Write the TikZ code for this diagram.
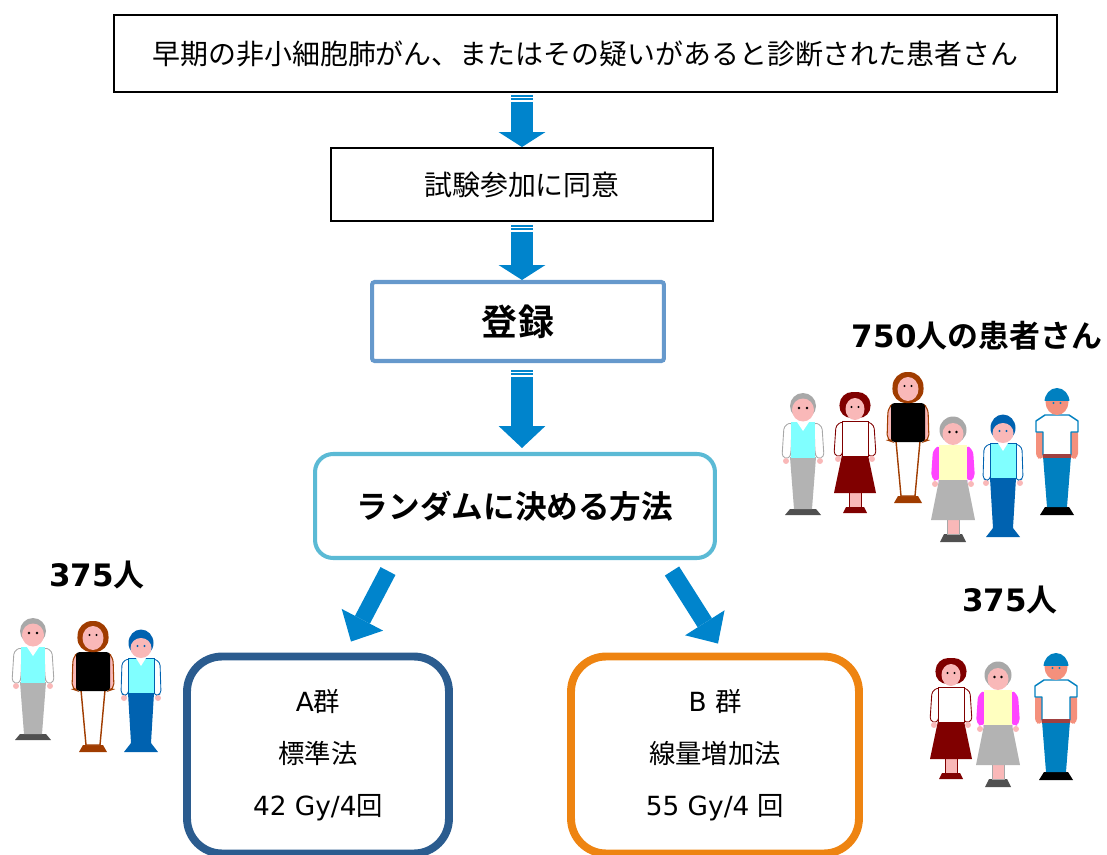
\documentclass[tikz,border=0pt]{standalone}
\usepackage{fontspec}
\setmainfont{DejaVu Sans}
\newfontfamily\jpfont{Noto Sans CJK JP}[BoldFont={Noto Sans CJK JP Bold}]
\usetikzlibrary{arrows.meta,calc,positioning}

\definecolor{arrowblue}{HTML}{0084CC}
\definecolor{regblue}{HTML}{6699CC}
\definecolor{randcyan}{HTML}{5BBAD5}
\definecolor{groupA}{HTML}{2B5C8F}
\definecolor{groupB}{HTML}{EE8411}
\definecolor{skin}{HTML}{F9B8B8}
\definecolor{salmonskin}{HTML}{F4907C}
\definecolor{vestcyan}{HTML}{80FFFF}
\definecolor{trouser}{HTML}{B3B3B3}
\definecolor{shoegrey}{HTML}{505050}
\definecolor{hairgrey}{HTML}{A8A8A8}
\definecolor{wine}{HTML}{800000}
\definecolor{rust}{HTML}{A03C00}
\definecolor{denim}{HTML}{0062B0}
\definecolor{jeans}{HTML}{0080C0}
\definecolor{lemon}{HTML}{FFFFC0}
\definecolor{fuchsia}{HTML}{FF44FF}
\definecolor{belt}{HTML}{A04040}

\tikzset{
  plainbox/.style={draw=black,line width=1.1pt,
    font=\jpfont\fontsize{15.9pt}{19pt}\selectfont},
  regbox/.style={draw=regblue,line width=2.3pt,rounded corners=1.5pt,
    font=\jpfont\bfseries\fontsize{20.5pt}{24pt}\selectfont},
  randbox/.style={draw=randcyan,line width=2.3pt,rounded corners=0.36cm,
    font=\jpfont\bfseries\fontsize{18pt}{22pt}\selectfont},
  armbox/.style={line width=4.5pt,rounded corners=0.7cm,align=center,
    minimum width=#1,minimum height=3.94cm,
    font=\fontsize{15pt}{29.5pt}\selectfont},
  countlabel/.style={inner sep=0pt,font=\bfseries\fontsize{17.6pt}{20pt}\selectfont},
  flowarrow/.style={arrowblue,line width=13pt,
    -{Triangle[width=26.6pt,length=#1,line width=0pt]}},
  flowarrow/.default=8.5pt,
  stripe/.style={white,line width=1pt},
  splitarrow/.style={arrowblue,line width=9.6pt,
    -{Triangle[width=26.6pt,length=14pt,line width=0pt]}},
  % little people, feet at the origin
  greyman/.pic={
    \fill[shoegrey] (-18,0) -- (18,0) -- (13,-6) -- (-13,-6) -- cycle;
    \fill[trouser] (-13,-58) -- (13,-58) -- (9,-6) -- (-9,-6) -- cycle;
    \foreach \s in {-1,1}{
      \filldraw[fill=white,draw=hairgrey,line width=0.5pt,rounded corners=2pt]
        (\s*11,-93) -- (\s*19,-89) -- (\s*21,-58) -- (\s*14,-56) -- (\s*12,-62) -- cycle;
      \fill[skin] (\s*17,-54) circle (3);
    }
    \fill[vestcyan] (-12,-93) rectangle (12,-57);
    \fill[white] (-6,-93) -- (0,-84) -- (6,-93) -- cycle;
    \fill[hairgrey] (0,-109) circle (13);
    \fill[skin] (0,-105) ellipse (11 and 11.5);
    \fill[black] (-4,-107) circle (1.4) (4,-107) circle (1.4);
  },
  redlady/.pic={
    \fill[wine] (-12,0) -- (12,0) -- (9,-6) -- (-9,-6) -- cycle;
    \filldraw[fill=skin,draw=wine,line width=0.5pt] (-6,-21) rectangle (6,-6);
    \fill[wine] (-21,-20) -- (21,-20) -- (13,-58) -- (-13,-58) -- cycle;
    \foreach \s in {-1,1}{
      \filldraw[fill=white,draw=wine,line width=0.5pt,rounded corners=2pt]
        (\s*11,-92) -- (\s*19,-88) -- (\s*21,-58) -- (\s*14,-56) -- (\s*12,-62) -- cycle;
      \fill[skin] (\s*17,-54) circle (3);
    }
    \filldraw[fill=white,draw=wine,line width=0.5pt] (-13,-92) rectangle (13,-57);
    \fill[wine,rounded corners=7pt] (-15,-121) -- (15,-121) -- (16,-95) -- (-16,-95) -- cycle;
    \fill[skin] (0,-104) ellipse (9.5 and 11);
    \fill[black] (-3.5,-106) circle (1.2) (3.5,-106) circle (1.2);
  },
  blacklady/.pic={
    \fill[rust] (-14,0) -- (14,0) -- (10,-7) -- (-10,-7) -- cycle;
    \filldraw[fill=white,draw=rust,line width=0.8pt] (-12,-62) -- (12,-62) -- (7,-7) -- (-7,-7) -- cycle;
    \foreach \s in {-1,1}
      \filldraw[fill=skin,draw=rust,line width=0.6pt,rounded corners=3pt]
        (\s*14,-100) -- (\s*20,-95) -- (\s*21,-63) -- (\s*15,-61) -- cycle;
    \fill[black,rounded corners=2pt] (-17,-100) rectangle (17,-61);
    \fill[rust,rounded corners=8pt] (-15,-131) -- (15,-131) -- (16,-100) -- (-16,-100) -- cycle;
    \fill[skin] (0,-114) ellipse (10.5 and 12);
    \fill[black] (-3.5,-117) circle (1.2) (3.5,-117) circle (1.2);
  },
  greylady/.pic={
    \fill[shoegrey] (-13,0) -- (13,0) -- (9,-8) -- (-9,-8) -- cycle;
    \filldraw[fill=skin,draw=hairgrey,line width=0.5pt] (-6,-23) rectangle (6,-8);
    \fill[trouser] (-22,-22) -- (22,-22) -- (14,-62) -- (-14,-62) -- cycle;
    \foreach \s in {-1,1}{
      \fill[fuchsia,rounded corners=3pt]
        (\s*12,-97) -- (\s*20,-93) -- (\s*22,-63) -- (\s*15,-60) -- (\s*13,-64) -- cycle;
      \fill[skin] (\s*18,-58) circle (3);
    }
    \fill[lemon] (-14,-97) rectangle (14,-62);
    \fill[hairgrey] (0,-112) circle (13.5);
    \fill[skin] (0,-108) ellipse (10.5 and 11);
    \fill[black] (-3.5,-110) circle (1.3) (3.5,-110) circle (1.3);
  },
  blueboy/.pic={
    \fill[denim] (-13,-59) -- (13,-59) -- (10,-9) -- (17,0) -- (-17,0) -- (-10,-9) -- cycle;
    \foreach \s in {-1,1}{
      \filldraw[fill=white,draw=denim,line width=0.5pt,rounded corners=2pt]
        (\s*11,-94) -- (\s*19,-90) -- (\s*20,-58) -- (\s*14,-56) -- (\s*12,-62) -- cycle;
      \fill[skin] (\s*17,-54) circle (3);
    }
    \filldraw[fill=vestcyan,draw=denim,line width=0.5pt] (-13,-94) rectangle (13,-59);
    \fill[white] (-5,-94) -- (0,-86) -- (5,-94) -- cycle;
    \fill[denim] (0,-109) ellipse (12.5 and 13.5);
    \fill[skin] (0,-104) ellipse (10.5 and 10);
    \fill[denim] (-3.5,-106) circle (1.1) (3.5,-106) circle (1.1);
  },
  blueman/.pic={
    \fill[black] (-17,0) -- (17,0) -- (12,-8) -- (-12,-8) -- cycle;
    \fill[jeans] (-14,-59) -- (14,-59) -- (10,-8) -- (-10,-8) -- cycle;
    \foreach \s in {-1,1}
      \fill[salmonskin,rounded corners=2pt]
        (\s*13,-85) -- (\s*21,-85) -- (\s*21,-58) -- (\s*16,-55) -- (\s*13,-60) -- cycle;
    \filldraw[fill=white,draw=jeans,line width=0.8pt,line join=round]
      (-14,-60) -- (-14,-83) -- (-21,-83) -- (-21,-94) -- (-12,-100)
      -- (12,-100) -- (21,-94) -- (21,-83) -- (14,-83) -- (14,-60) -- cycle;
    \fill[belt] (-14,-61) rectangle (14,-57);
    \fill[salmonskin] (0,-113) ellipse (11.5 and 13);
    \begin{scope}
      \clip (-13,-128) rectangle (13,-115);
      \fill[jeans] (0,-113) ellipse (12.5 and 14);
    \end{scope}
    \fill[jeans] (-3.5,-112) circle (1.1) (3.5,-112) circle (1.1);
  },
}

\begin{document}
\begin{tikzpicture}[x=0.02cm,y=-0.02cm]
  \clip (0,0) rectangle (1107,855);

  % flow boxes
  \node[plainbox,minimum width=18.86cm,minimum height=1.54cm] (suspect) at (585.5,53.5)
    {早期の非小細胞肺がん、またはその疑いがあると診断された患者さん};
  \node[plainbox,minimum width=7.64cm,minimum height=1.46cm] (consent) at (522,184.5)
    {試験参加に同意};
  \node[regbox,minimum width=5.84cm,minimum height=1.58cm] (reg) at (518,321.5) {登録};
  \node[randbox,minimum width=8cm,minimum height=2.08cm] (rand) at (515,506)
    {ランダムに決める方法};
  \node[armbox=5.24cm,draw=groupA] (armA) at (318,755)
    {A{\jpfont 群}\\{\jpfont 標準法}\\42 Gy/4{\jpfont 回}};
  \node[armbox=5.76cm,draw=groupB] (armB) at (715,755)
    {B {\jpfont 群}\\{\jpfont 線量増加法}\\55 Gy/4 {\jpfont 回}};

  % block arrows down the flow
  \coordinate (s1) at ($(consent.north |- suspect.south)+(0,2)$);
  \coordinate (s2) at ($(consent.south)+(0,3)$);
  \coordinate (s3) at ($(consent.south |- reg.south)+(0,7)$);
  \draw[flowarrow] (s1) -- (consent.north);
  \draw[flowarrow] (s2) -- (consent.south |- reg.north);
  \draw[flowarrow=12.5pt] (s3) -- ($(consent.south |- rand.north)+(0,-4)$);
  \foreach \s in {s1,s2,s3}
    \foreach \d in {2.5,6}
      \draw[stripe] ($(\s)+(-11.5,\d)$) -- ($(\s)+(11.5,\d)$);

  % split into the two arms
  \draw[splitarrow] ($(rand.south)+(-127,11)$) -- ($(armA.north)+(33,-11)$);
  \draw[splitarrow] ($(rand.south)+(157,11)$) -- ($(armB.north)+(3,-9)$);

  % patient counts
  \node[countlabel] (total) at (977,336) {750{\jpfont 人の患者さん}};
  \node[countlabel] (countA) at (97,575) {375{\jpfont 人}};
  \node[countlabel] (countB) at (1010,600) {375{\jpfont 人}};

  % all patients
  \pic at (803,515) {greyman};
  \pic at (855,513) {redlady};
  \pic at (908,503) {blacklady};
  \pic at (953,542) {greylady};
  \pic at (1003,537) {blueboy};
  \pic at (1057,515) {blueman};

  % arm A
  \pic at (33,740) {greyman};
  \pic at (93,752) {blacklady};
  \pic at (141,752) {blueboy};

  % arm B
  \pic at (951,779) {redlady};
  \pic at (998,787) {greylady};
  \pic at (1056,780) {blueman};
\end{tikzpicture}
\end{document}
